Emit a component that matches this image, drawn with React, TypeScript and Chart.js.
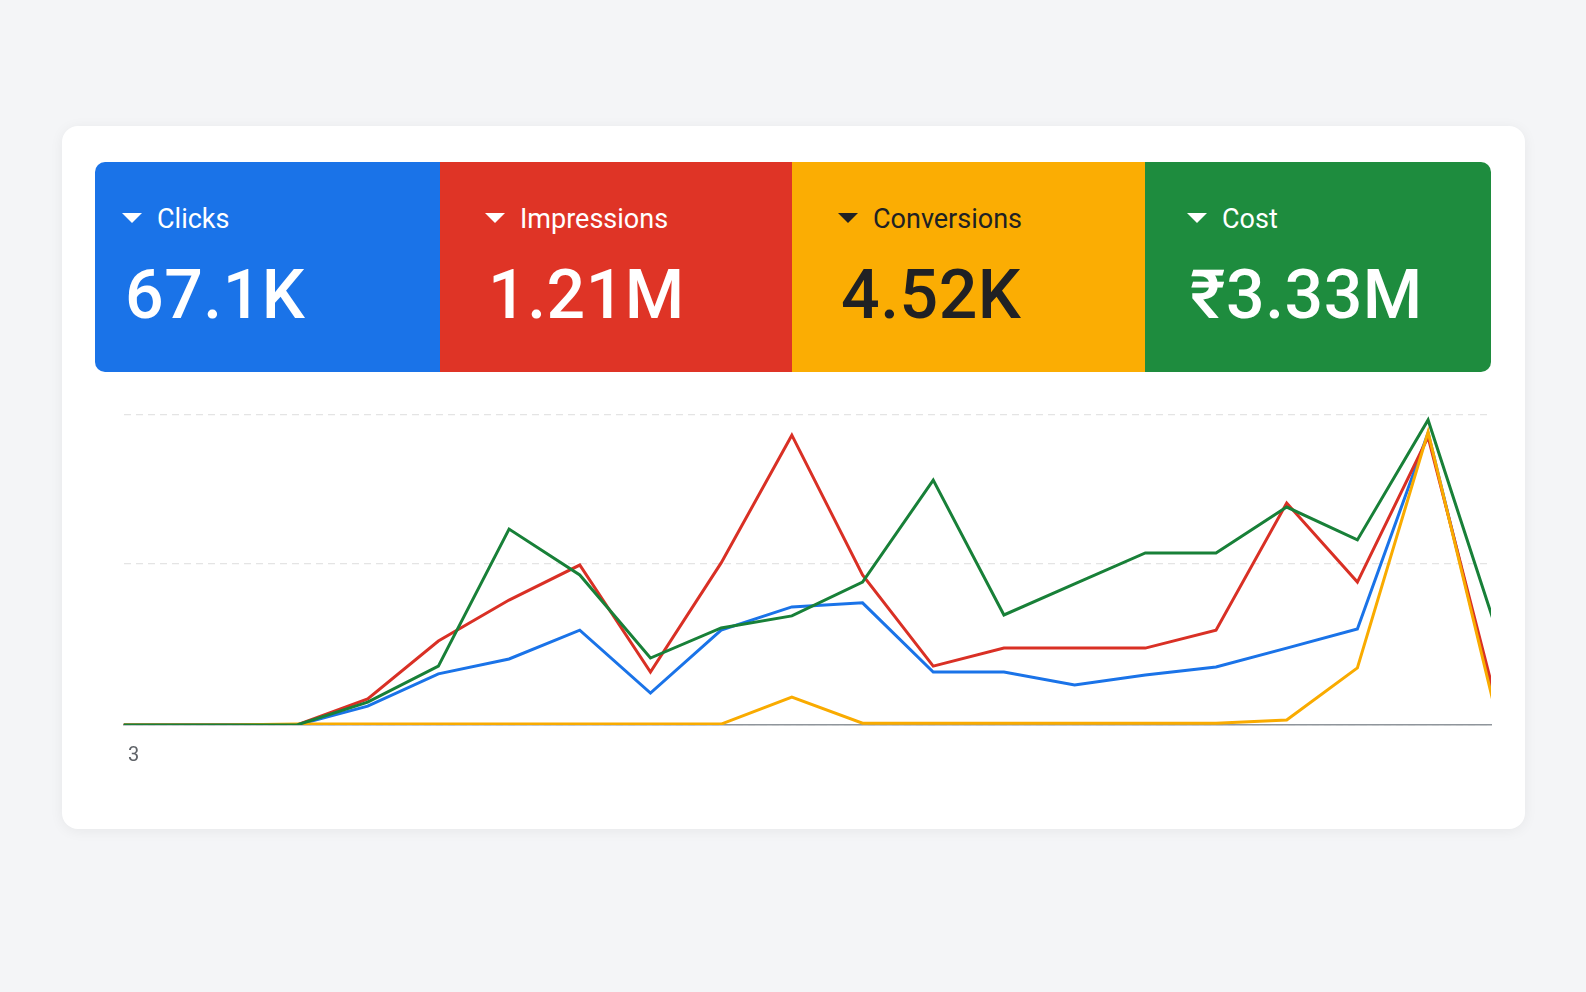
import React, { useEffect, useRef } from "react";
import { Chart, registerables } from "chart.js";

Chart.register(...registerables);

// ---- data ----
const dayIndex = [-3, -2, -1, 0, 1, 2, 3, 4, 5, 6, 7, 8, 9, 10, 11, 12, 13, 14, 15, 16, 17];
const clicks = [0, 0, 0, 0, 6.1, 16.5, 21.3, 30.6, 10.3, 30.6, 38.1, 39.4, 17.1, 17.1, 12.9, 16.1, 18.7, 24.8, 31.0, 94.2, 1.6];
const impressions = [0, 0, 0, 0, 8.4, 27.1, 40.3, 51.6, 17.1, 52.3, 93.5, 48.4, 19.0, 24.8, 24.8, 24.8, 30.6, 71.6, 46.1, 92.9, 4.2];
const conversions = [0, 0, 0, 0.3, 0.3, 0.3, 0.3, 0.3, 0.3, 0.3, 9.0, 0.6, 0.6, 0.6, 0.6, 0.6, 0.6, 1.6, 18.4, 94.5, 0];
const cost = [0, 0, 0, 0, 7.4, 19.0, 63.2, 48.4, 21.6, 31.3, 35.2, 46.1, 79.0, 35.5, 45.5, 55.5, 55.5, 70.3, 59.7, 98.4, 28.4];

const xTickLabels = ["3"];
const yGridValues = [0, 52, 100];
const X_MIN = -2.45;
const X_MAX = 16.89;

const metricNames = ["Clicks", "Impressions", "Conversions", "Cost"];
const metricTotals = ["67.1K", "1.21M", "4.52K", "₹3.33M"];

const tileColors = ["#1a73e8", "#df3426", "#fbad03", "#1e8c3e"];
const tileText = ["#ffffff", "#ffffff", "#202124", "#ffffff"];
const tileWidths = [345, 352, 353, 346];
const tilePad = [27, 45, 46, 42];
const lineColors = ["#1a73e8", "#d93025", "#f9ab00", "#188038"];

const FONT = "Roboto, 'Open Sans', Arial, sans-serif";

function Tile({ i }: { i: number }) {
  return (
    <div
      style={{
        position: "relative",
        width: tileWidths[i],
        flex: "none",
        height: "100%",
        background: tileColors[i],
        color: tileText[i],
      }}
    >
      <div
        style={{
          position: "absolute",
          left: tilePad[i],
          top: 51,
          width: 0,
          height: 0,
          borderLeft: "10px solid transparent",
          borderRight: "10px solid transparent",
          borderTop: `10px solid ${tileText[i]}`,
        }}
      />
      <div
        style={{
          position: "absolute",
          left: tilePad[i] + 35,
          top: 44,
          fontSize: 27,
          lineHeight: "26px",
          fontWeight: 400,
          whiteSpace: "nowrap",
        }}
      >
        {metricNames[i]}
      </div>
      <div
        style={{
          position: "absolute",
          left: tilePad[i] + 3,
          top: 99,
          fontSize: 68,
          lineHeight: "68px",
          fontWeight: 500,
          letterSpacing: 0.5,
          whiteSpace: "nowrap",
        }}
      >
        {metricTotals[i]}
      </div>
    </div>
  );
}

export default function App() {
  const canvasRef = useRef<HTMLCanvasElement | null>(null);

  useEffect(() => {
    if (!canvasRef.current) return;
    const series = [clicks, impressions, conversions, cost];
    const drawOrder = [3, 2, 1, 0];
    const chart = new Chart(canvasRef.current, {
      type: "line",
      data: {
        datasets: series.map((vals, s) => ({
          label: metricNames[s],
          data: dayIndex.map((d, k) => ({ x: d, y: vals[k] })),
          borderColor: lineColors[s],
          backgroundColor: lineColors[s],
          borderWidth: 3,
          pointRadius: 0,
          tension: 0,
          fill: false,
          order: drawOrder[s],
        })),
      },
      options: {
        animation: false,
        responsive: false,
        maintainAspectRatio: false,
        layout: { padding: { left: 10, right: 10, top: 10, bottom: 0 } },
        plugins: { legend: { display: false }, tooltip: { enabled: false } },
        scales: {
          x: {
            type: "linear",
            min: X_MIN,
            max: X_MAX,
            grid: { display: false, drawTicks: false },
            border: { display: true, color: "#8f959b", width: 1.5 },
            afterBuildTicks: (scale: any) => {
              scale.ticks = xTickLabels.map(() => ({ value: X_MIN + 0.06 }));
            },
            afterFit: (scale: any) => {
              scale.height = 50;
            },
            ticks: {
              align: "start",
              maxRotation: 0,
              autoSkip: false,
              padding: 19,
              color: "#5f6368",
              font: { family: FONT, size: 20 },
              callback: (_v: any, idx: number) => xTickLabels[idx] ?? "",
            },
          },
          y: {
            min: 0,
            max: 100,
            afterBuildTicks: (scale: any) => {
              scale.ticks = yGridValues.map((v) => ({ value: v }));
            },
            afterFit: (scale: any) => {
              scale.width = 0;
            },
            ticks: { display: false },
            grid: { color: "#e4e4e4", lineWidth: 1.2, drawTicks: false },
            border: { display: false, dash: [7, 5] },
          },
        },
      },
    } as any);
    return () => chart.destroy();
  }, []);

  return (
    <div
      style={{
        position: "absolute",
        left: 0,
        top: 0,
        width: 1586,
        height: 992,
        background: "#f4f5f7",
        fontFamily: FONT,
        overflow: "hidden",
      }}
    >
      <div
        style={{
          position: "absolute",
          left: 62,
          top: 126,
          width: 1463,
          height: 703,
          background: "#ffffff",
          borderRadius: 16,
          boxShadow: "0 2px 14px rgba(0,0,0,0.06)",
        }}
      />
      <div
        style={{
          position: "absolute",
          left: 95,
          top: 162,
          width: 1396,
          height: 210,
          borderRadius: 10,
          overflow: "hidden",
          display: "flex",
        }}
      >
        {[0, 1, 2, 3].map((i) => (
          <Tile key={i} i={i} />
        ))}
      </div>
      <canvas
        ref={canvasRef}
        width={1392}
        height={370}
        style={{ position: "absolute", left: 109, top: 405, width: 1392, height: 370 }}
      />
    </div>
  );
}
